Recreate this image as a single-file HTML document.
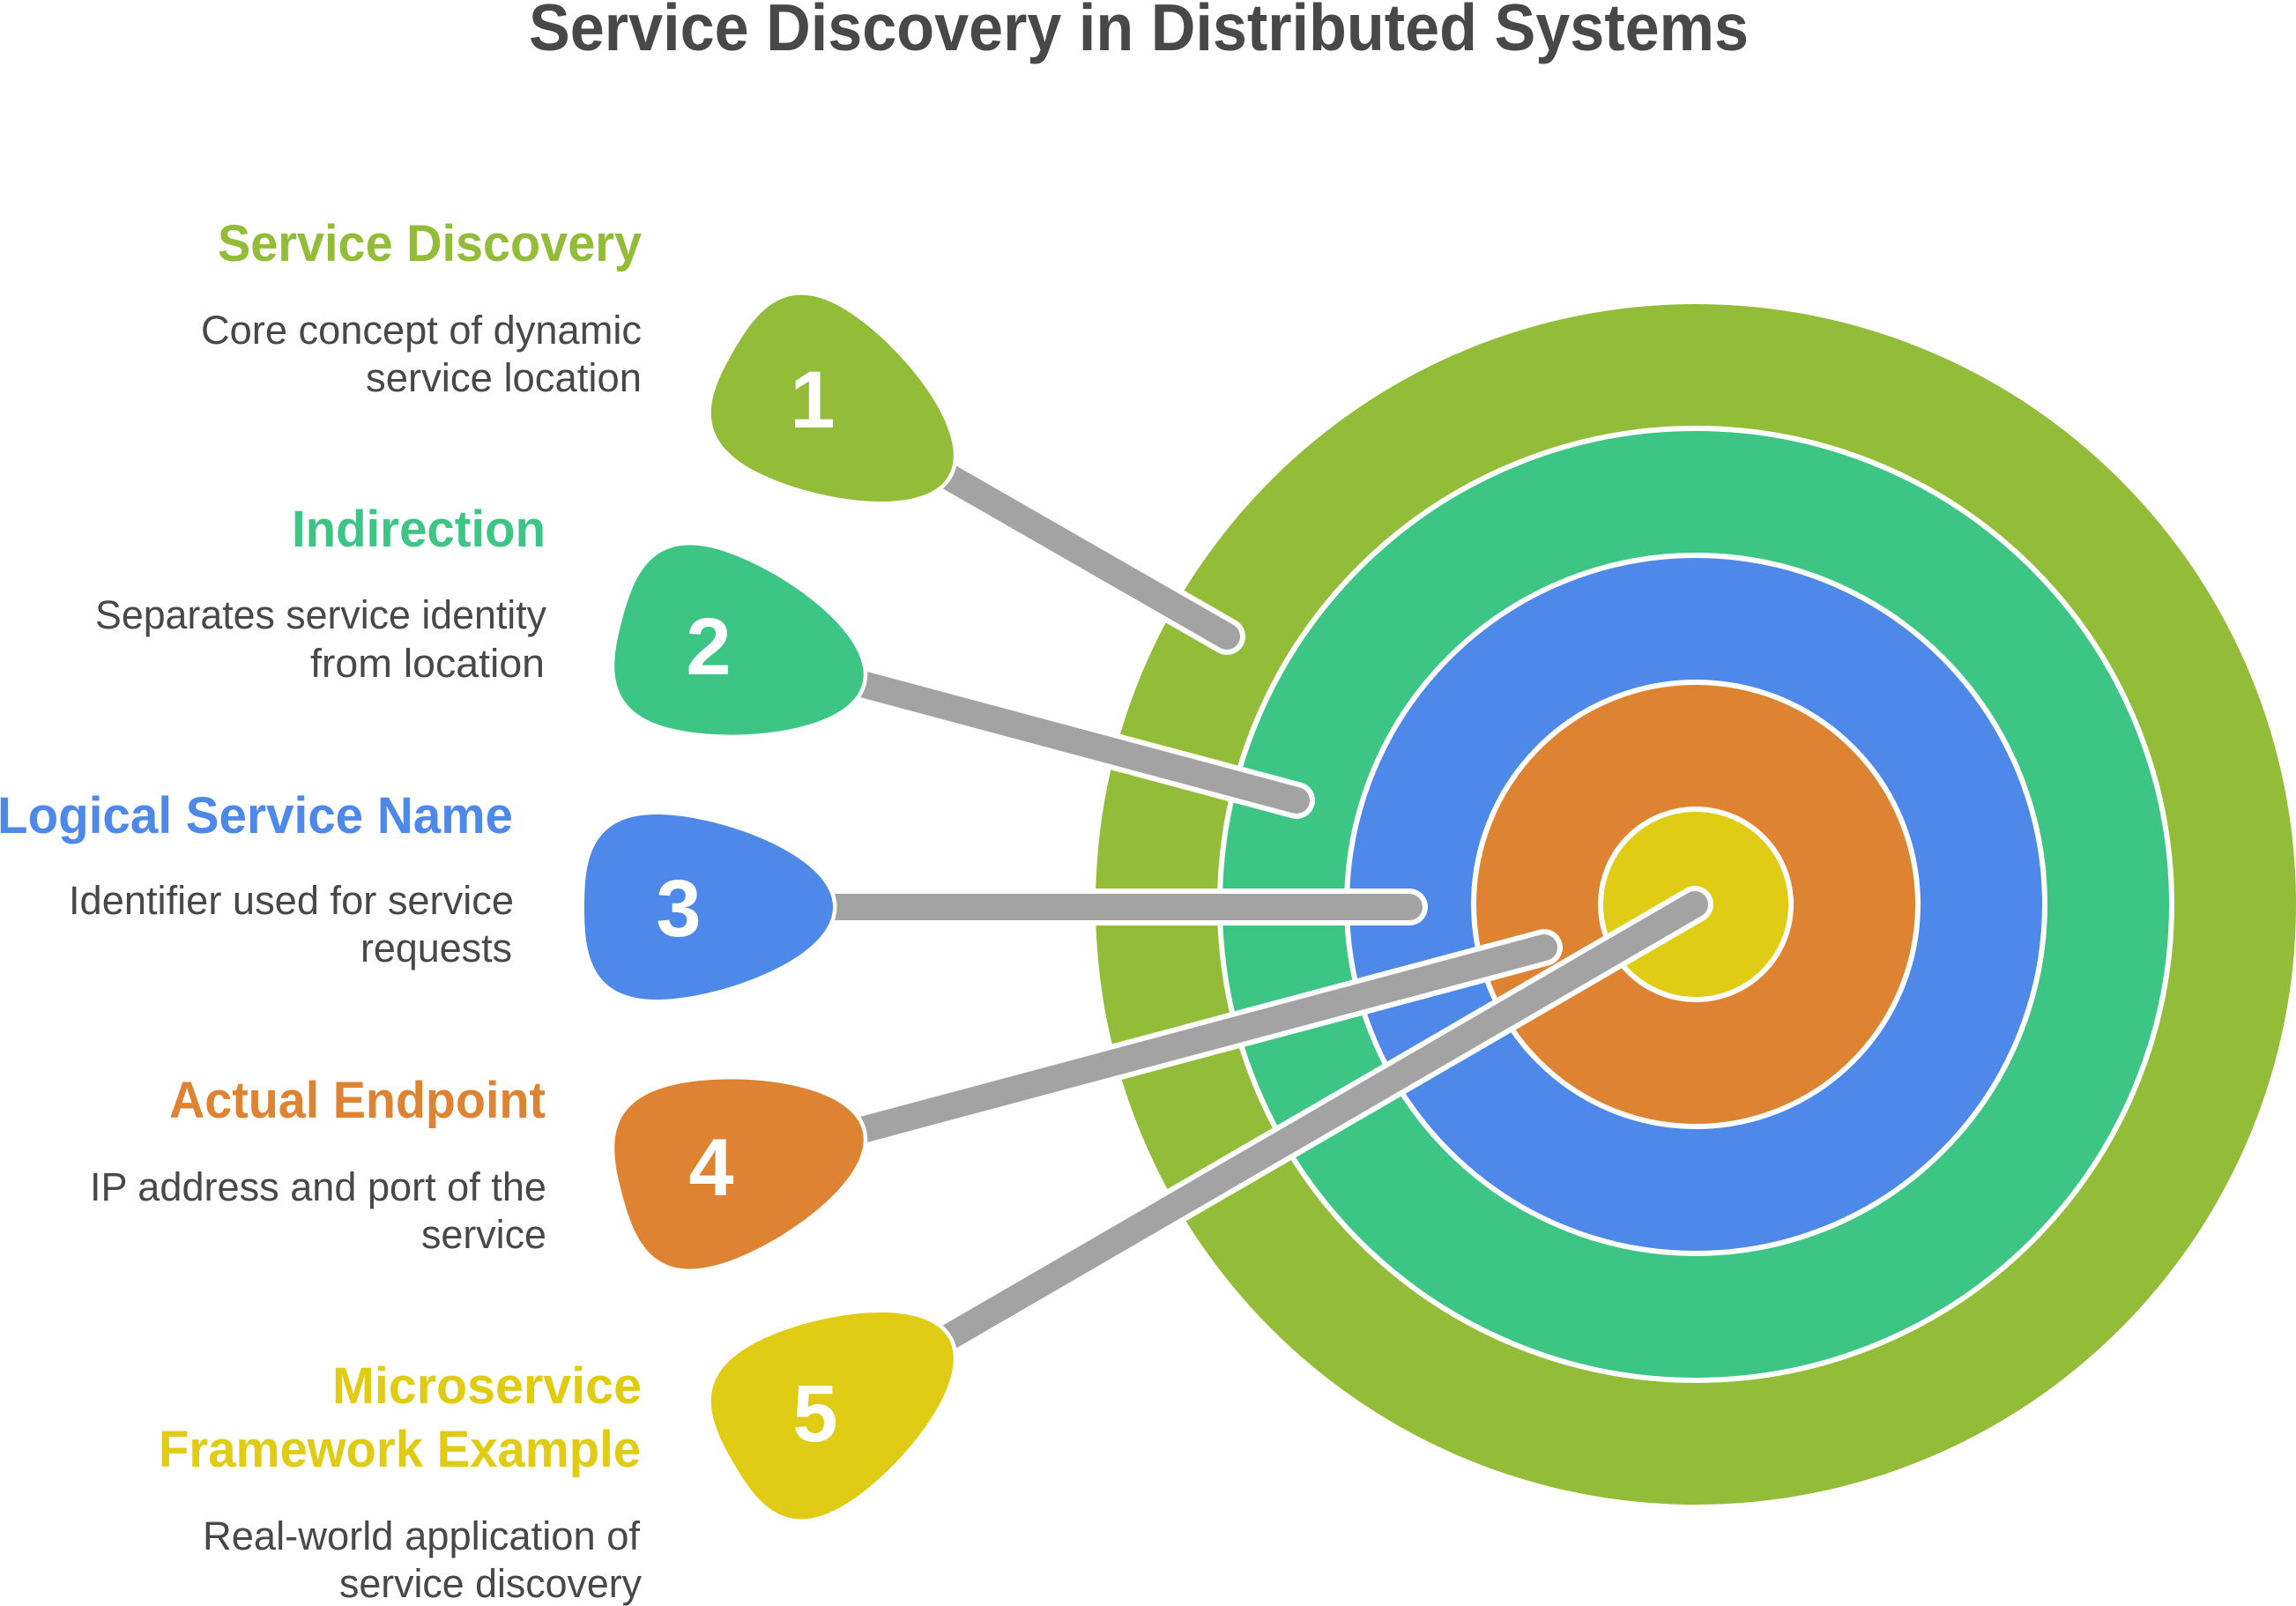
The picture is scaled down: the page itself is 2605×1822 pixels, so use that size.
<!DOCTYPE html>
<html>
<head>
<meta charset="utf-8">
<title>Service Discovery in Distributed Systems</title>
<style>
html,body{margin:0;padding:0;background:#fff;width:2605px;height:1822px;overflow:hidden}
svg{display:block}
text{font-family:"Liberation Sans",sans-serif}
.h{font-size:58px;font-weight:700}
.b{font-size:45px;fill:#484848}
.n{font-size:92px;font-weight:700;fill:#fff;text-anchor:middle}
</style>
</head>
<body>
<svg width="2605" height="1822" viewBox="0 0 2605 1822" xmlns="http://www.w3.org/2000/svg">
<rect width="2605" height="1822" fill="#fff"/>

<text x="600" y="57" font-size="75" font-weight="700" fill="#484848" textLength="1384" lengthAdjust="spacingAndGlyphs">Service Discovery in Distributed Systems</text>

<circle cx="1924" cy="1026" r="681" fill="#93BD39"/>
<circle cx="1924" cy="1026" r="540" fill="#3DC585" stroke="#fff" stroke-width="6"/>
<circle cx="1924" cy="1026" r="396" fill="#4E88E8" stroke="#fff" stroke-width="6"/>
<circle cx="1924" cy="1026" r="252" fill="#DE8331" stroke="#fff" stroke-width="6"/>
<circle cx="1924" cy="1026" r="108" fill="#E0CC14" stroke="#fff" stroke-width="6"/>

<g fill="none" stroke-linecap="round">
  <line x1="1075" y1="540" x2="1392" y2="722" stroke="#fff" stroke-width="42"/>
  <line x1="1075" y1="540" x2="1392" y2="722" stroke="#A3A3A3" stroke-width="30"/>
  <line x1="978" y1="776" x2="1471" y2="908" stroke="#fff" stroke-width="42"/>
  <line x1="978" y1="776" x2="1471" y2="908" stroke="#A3A3A3" stroke-width="30"/>
  <line x1="940" y1="1029" x2="1599" y2="1029" stroke="#fff" stroke-width="42"/>
  <line x1="940" y1="1029" x2="1599" y2="1029" stroke="#A3A3A3" stroke-width="30"/>
  <line x1="978" y1="1282" x2="1752" y2="1075" stroke="#fff" stroke-width="42"/>
  <line x1="978" y1="1282" x2="1752" y2="1075" stroke="#A3A3A3" stroke-width="30"/>
  <line x1="1075" y1="1518" x2="1923" y2="1026" stroke="#fff" stroke-width="42"/>
  <line x1="1075" y1="1518" x2="1923" y2="1026" stroke="#A3A3A3" stroke-width="30"/>
</g>

<g stroke="#fff" stroke-width="9" paint-order="stroke">
  <path transform="rotate(30 1923 1029)" fill="#93BD39" d="M663 1029C663 980 668 924 745 924C815 924 945 970 945 1029C945 1088 815 1134 745 1134C668 1134 663 1078 663 1029Z"/>
  <path transform="rotate(15 1923 1029)" fill="#3DC585" d="M663 1029C663 980 668 924 745 924C815 924 945 970 945 1029C945 1088 815 1134 745 1134C668 1134 663 1078 663 1029Z"/>
  <path fill="#4E88E8" d="M663 1029C663 980 668 924 745 924C815 924 945 970 945 1029C945 1088 815 1134 745 1134C668 1134 663 1078 663 1029Z"/>
  <path transform="rotate(-15 1923 1029)" fill="#DE8331" d="M663 1029C663 980 668 924 745 924C815 924 945 970 945 1029C945 1088 815 1134 745 1134C668 1134 663 1078 663 1029Z"/>
  <path transform="rotate(-30 1923 1029)" fill="#E0CC14" d="M663 1029C663 980 668 924 745 924C815 924 945 970 945 1029C945 1088 815 1134 745 1134C668 1134 663 1078 663 1029Z"/>
</g>

<text class="n" x="922" y="485">1</text>
<text class="n" x="804" y="765">2</text>
<text class="n" x="770" y="1062">3</text>
<text class="n" x="807" y="1356">4</text>
<text class="n" x="925" y="1635">5</text>

<text class="h" fill="#93BD39" x="247" y="296" textLength="481" lengthAdjust="spacingAndGlyphs">Service Discovery</text>
<text class="b" x="228" y="390" textLength="500" lengthAdjust="spacingAndGlyphs">Core concept of dynamic</text>
<text class="b" x="415" y="444" textLength="313" lengthAdjust="spacingAndGlyphs">service location</text>

<text class="h" fill="#3DC585" x="331" y="620" textLength="288" lengthAdjust="spacingAndGlyphs">Indirection</text>
<text class="b" x="108" y="713" textLength="512" lengthAdjust="spacingAndGlyphs">Separates service identity</text>
<text class="b" x="352" y="768" textLength="266" lengthAdjust="spacingAndGlyphs">from location</text>

<text class="h" fill="#4E88E8" x="-3" y="945" textLength="585" lengthAdjust="spacingAndGlyphs">Logical Service Name</text>
<text class="b" x="78" y="1037" textLength="505" lengthAdjust="spacingAndGlyphs">Identifier used for service</text>
<text class="b" x="409" y="1091" textLength="172" lengthAdjust="spacingAndGlyphs">requests</text>

<text class="h" fill="#DE8331" x="192" y="1268" textLength="427" lengthAdjust="spacingAndGlyphs">Actual Endpoint</text>
<text class="b" x="102" y="1362" textLength="518" lengthAdjust="spacingAndGlyphs">IP address and port of the</text>
<text class="b" x="478" y="1416" textLength="142" lengthAdjust="spacingAndGlyphs">service</text>

<text class="h" fill="#E0CC14" x="377" y="1592" textLength="351" lengthAdjust="spacingAndGlyphs">Microservice</text>
<text class="h" fill="#E0CC14" x="180" y="1664" textLength="547" lengthAdjust="spacingAndGlyphs">Framework Example</text>
<text class="b" x="230" y="1758" textLength="496" lengthAdjust="spacingAndGlyphs">Real-world application of</text>
<text class="b" x="385" y="1812" textLength="343" lengthAdjust="spacingAndGlyphs">service discovery</text>
</svg>
</body>
</html>
